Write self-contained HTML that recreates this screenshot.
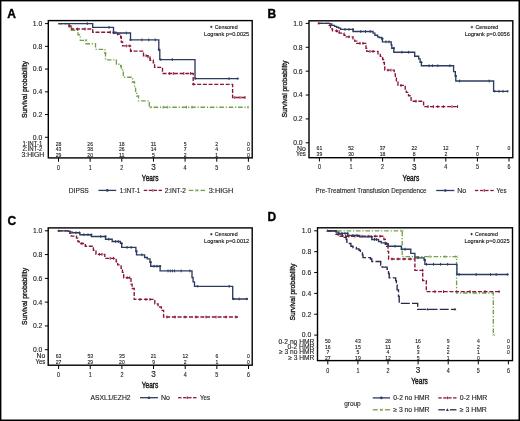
<!DOCTYPE html>
<html><head><meta charset="utf-8"><style>
html,body{margin:0;padding:0;background:#fff;}
svg{display:block;will-change:transform;}
text{font-family:"Liberation Sans", sans-serif;stroke:currentColor;stroke-width:0.12px;}
</style></head><body>
<svg width="520" height="421" viewBox="0 0 520 421">
<rect x="0" y="0" width="520" height="421" fill="#fff"/>
<text x="7.3" y="17.6" font-size="12" font-weight="bold" fill="#000" color="#000" style="stroke-width:0.35px">A</text>
<line x1="45.0" y1="137.3" x2="48.3" y2="137.3" stroke="#000" stroke-width="1"/>
<text x="42.2" y="139.68" font-size="6.8" text-anchor="end" fill="#222" color="#222">0.0</text>
<line x1="45.0" y1="114.56" x2="48.3" y2="114.56" stroke="#000" stroke-width="1"/>
<text x="42.2" y="116.94" font-size="6.8" text-anchor="end" fill="#222" color="#222">0.2</text>
<line x1="45.0" y1="91.82" x2="48.3" y2="91.82" stroke="#000" stroke-width="1"/>
<text x="42.2" y="94.2" font-size="6.8" text-anchor="end" fill="#222" color="#222">0.4</text>
<line x1="45.0" y1="69.08" x2="48.3" y2="69.08" stroke="#000" stroke-width="1"/>
<text x="42.2" y="71.46" font-size="6.8" text-anchor="end" fill="#222" color="#222">0.6</text>
<line x1="45.0" y1="46.34" x2="48.3" y2="46.34" stroke="#000" stroke-width="1"/>
<text x="42.2" y="48.72" font-size="6.8" text-anchor="end" fill="#222" color="#222">0.8</text>
<line x1="45.0" y1="23.6" x2="48.3" y2="23.6" stroke="#000" stroke-width="1"/>
<text x="42.2" y="25.98" font-size="6.8" text-anchor="end" fill="#222" color="#222">1.0</text>
<text x="0" y="0" font-size="8" fill="#1a1a1a" color="#1a1a1a" style="stroke-width:0.35px" text-anchor="middle" textLength="57" lengthAdjust="spacingAndGlyphs" transform="translate(26.900000000000002,89.5) rotate(-90)">Survival probability</text>
<line x1="58.5" y1="157.9" x2="58.5" y2="161.70000000000002" stroke="#000" stroke-width="1"/>
<text x="58.5" y="169.61" font-size="6.3" text-anchor="middle" textLength="3.01" lengthAdjust="spacingAndGlyphs" fill="#222" color="#222">0</text>
<line x1="90.15" y1="157.9" x2="90.15" y2="161.70000000000002" stroke="#000" stroke-width="1"/>
<text x="90.15" y="169.61" font-size="6.3" text-anchor="middle" textLength="3.01" lengthAdjust="spacingAndGlyphs" fill="#222" color="#222">1</text>
<line x1="121.8" y1="157.9" x2="121.8" y2="161.70000000000002" stroke="#000" stroke-width="1"/>
<text x="121.8" y="169.61" font-size="6.3" text-anchor="middle" textLength="3.01" lengthAdjust="spacingAndGlyphs" fill="#222" color="#222">2</text>
<line x1="153.45" y1="157.9" x2="153.45" y2="161.70000000000002" stroke="#000" stroke-width="1"/>
<text x="153.45" y="169.87" font-size="8.2" text-anchor="middle" fill="#1a1a1a" color="#1a1a1a" style="stroke-width:0.15px">3</text>
<line x1="185.1" y1="157.9" x2="185.1" y2="161.70000000000002" stroke="#000" stroke-width="1"/>
<text x="185.1" y="169.61" font-size="6.3" text-anchor="middle" textLength="3.01" lengthAdjust="spacingAndGlyphs" fill="#222" color="#222">4</text>
<line x1="216.75" y1="157.9" x2="216.75" y2="161.70000000000002" stroke="#000" stroke-width="1"/>
<text x="216.75" y="169.61" font-size="6.3" text-anchor="middle" textLength="3.01" lengthAdjust="spacingAndGlyphs" fill="#222" color="#222">5</text>
<line x1="248.4" y1="157.9" x2="248.4" y2="161.70000000000002" stroke="#000" stroke-width="1"/>
<text x="248.4" y="169.61" font-size="6.3" text-anchor="middle" textLength="3.01" lengthAdjust="spacingAndGlyphs" fill="#222" color="#222">6</text>
<text x="150.15" y="180.62" font-size="9.5" text-anchor="middle" textLength="16.6" lengthAdjust="spacingAndGlyphs" fill="#111" color="#111" style="stroke-width:0.4px">Years</text>
<text x="42.3" y="146.47" font-size="6.5" text-anchor="end" textLength="19.8" lengthAdjust="spacingAndGlyphs" fill="#222" color="#222">1:INT-1</text>
<text x="58.5" y="146.26" font-size="5.9" text-anchor="middle" textLength="5.64" lengthAdjust="spacingAndGlyphs" fill="#1a1a1a" color="#1a1a1a" style="stroke-width:0.12px">28</text>
<text x="90.15" y="146.26" font-size="5.9" text-anchor="middle" textLength="5.64" lengthAdjust="spacingAndGlyphs" fill="#1a1a1a" color="#1a1a1a" style="stroke-width:0.12px">26</text>
<text x="121.8" y="146.26" font-size="5.9" text-anchor="middle" textLength="5.64" lengthAdjust="spacingAndGlyphs" fill="#1a1a1a" color="#1a1a1a" style="stroke-width:0.12px">18</text>
<text x="153.45" y="146.26" font-size="5.9" text-anchor="middle" textLength="5.64" lengthAdjust="spacingAndGlyphs" fill="#1a1a1a" color="#1a1a1a" style="stroke-width:0.12px">11</text>
<text x="185.1" y="146.26" font-size="5.9" text-anchor="middle" textLength="2.82" lengthAdjust="spacingAndGlyphs" fill="#1a1a1a" color="#1a1a1a" style="stroke-width:0.12px">5</text>
<text x="216.75" y="146.26" font-size="5.9" text-anchor="middle" textLength="2.82" lengthAdjust="spacingAndGlyphs" fill="#1a1a1a" color="#1a1a1a" style="stroke-width:0.12px">2</text>
<text x="248.4" y="146.26" font-size="5.9" text-anchor="middle" textLength="2.82" lengthAdjust="spacingAndGlyphs" fill="#1a1a1a" color="#1a1a1a" style="stroke-width:0.12px">0</text>
<text x="42.3" y="151.47" font-size="6.5" text-anchor="end" textLength="19.8" lengthAdjust="spacingAndGlyphs" fill="#222" color="#222">2:INT-2</text>
<text x="58.5" y="151.26" font-size="5.9" text-anchor="middle" textLength="5.64" lengthAdjust="spacingAndGlyphs" fill="#1a1a1a" color="#1a1a1a" style="stroke-width:0.12px">43</text>
<text x="90.15" y="151.26" font-size="5.9" text-anchor="middle" textLength="5.64" lengthAdjust="spacingAndGlyphs" fill="#1a1a1a" color="#1a1a1a" style="stroke-width:0.12px">38</text>
<text x="121.8" y="151.26" font-size="5.9" text-anchor="middle" textLength="5.64" lengthAdjust="spacingAndGlyphs" fill="#1a1a1a" color="#1a1a1a" style="stroke-width:0.12px">26</text>
<text x="153.45" y="151.26" font-size="5.9" text-anchor="middle" textLength="5.64" lengthAdjust="spacingAndGlyphs" fill="#1a1a1a" color="#1a1a1a" style="stroke-width:0.12px">14</text>
<text x="185.1" y="151.26" font-size="5.9" text-anchor="middle" textLength="2.82" lengthAdjust="spacingAndGlyphs" fill="#1a1a1a" color="#1a1a1a" style="stroke-width:0.12px">7</text>
<text x="216.75" y="151.26" font-size="5.9" text-anchor="middle" textLength="2.82" lengthAdjust="spacingAndGlyphs" fill="#1a1a1a" color="#1a1a1a" style="stroke-width:0.12px">4</text>
<text x="248.4" y="151.26" font-size="5.9" text-anchor="middle" textLength="2.82" lengthAdjust="spacingAndGlyphs" fill="#1a1a1a" color="#1a1a1a" style="stroke-width:0.12px">0</text>
<text x="44.2" y="157.18" font-size="6.5" text-anchor="end" textLength="22.7" lengthAdjust="spacingAndGlyphs" fill="#222" color="#222">3:HIGH</text>
<text x="58.5" y="156.97" font-size="5.9" text-anchor="middle" textLength="5.64" lengthAdjust="spacingAndGlyphs" fill="#1a1a1a" color="#1a1a1a" style="stroke-width:0.12px">29</text>
<text x="90.15" y="156.97" font-size="5.9" text-anchor="middle" textLength="5.64" lengthAdjust="spacingAndGlyphs" fill="#1a1a1a" color="#1a1a1a" style="stroke-width:0.12px">20</text>
<text x="121.8" y="156.97" font-size="5.9" text-anchor="middle" textLength="5.64" lengthAdjust="spacingAndGlyphs" fill="#1a1a1a" color="#1a1a1a" style="stroke-width:0.12px">11</text>
<text x="153.45" y="156.97" font-size="5.9" text-anchor="middle" textLength="2.82" lengthAdjust="spacingAndGlyphs" fill="#1a1a1a" color="#1a1a1a" style="stroke-width:0.12px">5</text>
<text x="185.1" y="156.97" font-size="5.9" text-anchor="middle" textLength="2.82" lengthAdjust="spacingAndGlyphs" fill="#1a1a1a" color="#1a1a1a" style="stroke-width:0.12px">2</text>
<text x="216.75" y="156.97" font-size="5.9" text-anchor="middle" textLength="2.82" lengthAdjust="spacingAndGlyphs" fill="#1a1a1a" color="#1a1a1a" style="stroke-width:0.12px">1</text>
<text x="248.4" y="156.97" font-size="5.9" text-anchor="middle" textLength="2.82" lengthAdjust="spacingAndGlyphs" fill="#1a1a1a" color="#1a1a1a" style="stroke-width:0.12px">0</text>
<path d="M58.5,23.6 H69 V27 H71.3 V30.2 H78 V34.7 H80.3 V40.3 H86 V43.7 H95.5 V49.3 H105 V53 H105.5 V59.8 H116.4 V64.2 H120.7 V66.1 H121.3 V70 H122.6 V71.3 H123.3 V77.2 H132.5 V82 H134.5 V87 H135.6 V92.5 H136.7 V96 H138.5 V100.8 H149.3 V107.2 H248.4" fill="none" stroke="#74a04a" stroke-width="1.35" stroke-dasharray="4.6,1.8,1.2,1.8" stroke-linejoin="miter"/>
<line x1="163.2" y1="105.8" x2="163.2" y2="108.6" stroke="#74a04a" stroke-width="1.0"/>
<line x1="167.7" y1="105.8" x2="167.7" y2="108.6" stroke="#74a04a" stroke-width="1.0"/>
<line x1="186.5" y1="105.8" x2="186.5" y2="108.6" stroke="#74a04a" stroke-width="1.0"/>
<line x1="192" y1="105.8" x2="192" y2="108.6" stroke="#74a04a" stroke-width="1.0"/>
<line x1="248" y1="105.8" x2="248" y2="108.6" stroke="#74a04a" stroke-width="1.0"/>
<line x1="70.1" y1="25.9" x2="72.3" y2="28.1" stroke="#74a04a" stroke-width="0.8"/>
<line x1="70.1" y1="28.1" x2="72.3" y2="25.9" stroke="#74a04a" stroke-width="0.8"/>
<line x1="84.9" y1="39.2" x2="87.1" y2="41.4" stroke="#74a04a" stroke-width="0.8"/>
<line x1="84.9" y1="41.4" x2="87.1" y2="39.2" stroke="#74a04a" stroke-width="0.8"/>
<line x1="104.2" y1="51.9" x2="106.4" y2="54.1" stroke="#74a04a" stroke-width="0.8"/>
<line x1="104.2" y1="54.1" x2="106.4" y2="51.9" stroke="#74a04a" stroke-width="0.8"/>
<line x1="119.9" y1="65.0" x2="122.1" y2="67.2" stroke="#74a04a" stroke-width="0.8"/>
<line x1="119.9" y1="67.2" x2="122.1" y2="65.0" stroke="#74a04a" stroke-width="0.8"/>
<line x1="132.4" y1="80.9" x2="134.6" y2="83.1" stroke="#74a04a" stroke-width="0.8"/>
<line x1="132.4" y1="83.1" x2="134.6" y2="80.9" stroke="#74a04a" stroke-width="0.8"/>
<line x1="149.4" y1="106.1" x2="151.6" y2="108.3" stroke="#74a04a" stroke-width="0.8"/>
<line x1="149.4" y1="108.3" x2="151.6" y2="106.1" stroke="#74a04a" stroke-width="0.8"/>
<path d="M58.5,23.6 H69 V26 H71.5 V29 H92.7 V32.2 H117.4 V34.1 H120.7 V37.4 H121.3 V42 H122.6 V45.9 H130.5 V51.1 H143.5 V55.7 H148.1 V57.5 H150 V60.2 H153.3 V62.9 H154.6 V67.4 H162.5 V73.5 H193.2 V84.4 H232.6 V97.5 H245.4" fill="none" stroke="#8a1437" stroke-width="1.35" stroke-dasharray="4,1.7" stroke-linejoin="miter"/>
<circle cx="131" cy="51.1" r="1.15" fill="#8a1437"/>
<circle cx="193.5" cy="84.4" r="1.15" fill="#8a1437"/>
<line x1="69.6" y1="24.6" x2="69.6" y2="27.4" stroke="#8a1437" stroke-width="1.0"/>
<line x1="77.3" y1="27.6" x2="77.3" y2="30.4" stroke="#8a1437" stroke-width="1.0"/>
<line x1="85" y1="27.6" x2="85" y2="30.4" stroke="#8a1437" stroke-width="1.0"/>
<line x1="110.2" y1="30.8" x2="110.2" y2="33.6" stroke="#8a1437" stroke-width="1.0"/>
<line x1="117.7" y1="32.7" x2="117.7" y2="35.5" stroke="#8a1437" stroke-width="1.0"/>
<line x1="121.3" y1="36.0" x2="121.3" y2="38.8" stroke="#8a1437" stroke-width="1.0"/>
<line x1="126.3" y1="44.5" x2="126.3" y2="47.3" stroke="#8a1437" stroke-width="1.0"/>
<line x1="129.8" y1="44.5" x2="129.8" y2="47.3" stroke="#8a1437" stroke-width="1.0"/>
<line x1="146" y1="54.3" x2="146" y2="57.1" stroke="#8a1437" stroke-width="1.0"/>
<line x1="150" y1="56.1" x2="150" y2="58.9" stroke="#8a1437" stroke-width="1.0"/>
<line x1="169.4" y1="72.1" x2="169.4" y2="74.9" stroke="#8a1437" stroke-width="1.0"/>
<line x1="173.3" y1="72.1" x2="173.3" y2="74.9" stroke="#8a1437" stroke-width="1.0"/>
<line x1="183.8" y1="72.1" x2="183.8" y2="74.9" stroke="#8a1437" stroke-width="1.0"/>
<line x1="190.6" y1="72.1" x2="190.6" y2="74.9" stroke="#8a1437" stroke-width="1.0"/>
<line x1="234.8" y1="96.1" x2="234.8" y2="98.9" stroke="#8a1437" stroke-width="1.0"/>
<line x1="240" y1="96.1" x2="240" y2="98.9" stroke="#8a1437" stroke-width="1.0"/>
<line x1="245" y1="96.1" x2="245" y2="98.9" stroke="#8a1437" stroke-width="1.0"/>
<path d="M58.5,23.6 H92.7 V27.4 H113.5 V33 H130.5 V39.9 H158.8 V49.7 H159.8 V59.6 H195 V78.6 H238" fill="none" stroke="#2b3c60" stroke-width="1.35" stroke-linejoin="miter"/>
<circle cx="113.7" cy="33.0" r="1.15" fill="#2b3c60"/>
<circle cx="130.6" cy="39.9" r="1.15" fill="#2b3c60"/>
<circle cx="158.9" cy="49.7" r="1.15" fill="#2b3c60"/>
<circle cx="160.8" cy="59.6" r="1.15" fill="#2b3c60"/>
<circle cx="195.4" cy="78.6" r="1.15" fill="#2b3c60"/>
<circle cx="237.7" cy="78.6" r="1.15" fill="#2b3c60"/>
<line x1="87.3" y1="22.2" x2="87.3" y2="25.0" stroke="#2b3c60" stroke-width="1.0"/>
<line x1="109" y1="26.0" x2="109" y2="28.8" stroke="#2b3c60" stroke-width="1.0"/>
<line x1="126.3" y1="31.6" x2="126.3" y2="34.4" stroke="#2b3c60" stroke-width="1.0"/>
<line x1="141.9" y1="38.5" x2="141.9" y2="41.3" stroke="#2b3c60" stroke-width="1.0"/>
<line x1="148.8" y1="38.5" x2="148.8" y2="41.3" stroke="#2b3c60" stroke-width="1.0"/>
<line x1="155.2" y1="38.5" x2="155.2" y2="41.3" stroke="#2b3c60" stroke-width="1.0"/>
<line x1="172.3" y1="58.2" x2="172.3" y2="61.0" stroke="#2b3c60" stroke-width="1.0"/>
<line x1="229" y1="77.2" x2="229" y2="80.0" stroke="#2b3c60" stroke-width="1.0"/>
<rect x="48.3" y="20.6" width="203.9" height="137.3" fill="none" stroke="#000" stroke-width="1.4"/>
<line x1="210.1" y1="26.900000000000002" x2="212.5" y2="26.900000000000002" stroke="#222" stroke-width="0.85"/>
<line x1="211.29999999999998" y1="25.700000000000003" x2="211.29999999999998" y2="28.1" stroke="#222" stroke-width="0.85"/>
<text x="214.79999999999998" y="29.06" font-size="5.6" textLength="22.9" lengthAdjust="spacingAndGlyphs" fill="#111" color="#111">Censored</text>
<text x="204.1" y="35.66" font-size="5.6" textLength="45.1" lengthAdjust="spacingAndGlyphs" fill="#111" color="#111">Logrank p=0.0025</text>
<text x="68.8" y="192.68" font-size="6.5" textLength="20.0" lengthAdjust="spacingAndGlyphs" fill="#222" color="#222">DIPSS</text>
<line x1="98.4" y1="190.4" x2="116.2" y2="190.4" stroke="#2b3c60" stroke-width="1.3"/>
<circle cx="107.30000000000001" cy="190.4" r="1.3" fill="#2b3c60"/>
<text x="119.7" y="192.68" font-size="6.5" textLength="20.6" lengthAdjust="spacingAndGlyphs" fill="#222" color="#222">1:INT-1</text>
<line x1="143.75" y1="190.4" x2="147.15" y2="190.4" stroke="#8a1437" stroke-width="1.3"/>
<line x1="148.7" y1="190.4" x2="152.1" y2="190.4" stroke="#8a1437" stroke-width="1.3"/>
<line x1="153.65" y1="190.4" x2="157.05" y2="190.4" stroke="#8a1437" stroke-width="1.3"/>
<line x1="158.6" y1="190.4" x2="162.0" y2="190.4" stroke="#8a1437" stroke-width="1.3"/>
<line x1="152.875" y1="189.1" x2="152.875" y2="191.70000000000002" stroke="#8a1437" stroke-width="1"/>
<text x="164.7" y="192.68" font-size="6.5" textLength="21.3" lengthAdjust="spacingAndGlyphs" fill="#222" color="#222">2:INT-2</text>
<line x1="188.75" y1="190.4" x2="193.28" y2="190.4" stroke="#74a04a" stroke-width="1.3"/>
<line x1="200.47" y1="190.4" x2="205" y2="190.4" stroke="#74a04a" stroke-width="1.3"/>
<line x1="195.47" y1="190.4" x2="198.28" y2="190.4" stroke="#74a04a" stroke-width="1.0"/>
<line x1="195.675" y1="189.20000000000002" x2="198.075" y2="191.6" stroke="#74a04a" stroke-width="0.9"/>
<line x1="195.675" y1="191.6" x2="198.075" y2="189.20000000000002" stroke="#74a04a" stroke-width="0.9"/>
<text x="208.8" y="192.68" font-size="6.5" textLength="24.4" lengthAdjust="spacingAndGlyphs" fill="#222" color="#222">3:HIGH</text>
<text x="267.4" y="17.9" font-size="12" font-weight="bold" fill="#000" color="#000" style="stroke-width:0.35px">B</text>
<line x1="305.7" y1="142.8" x2="309.0" y2="142.8" stroke="#000" stroke-width="1"/>
<text x="302.6" y="145.18" font-size="6.8" text-anchor="end" fill="#222" color="#222">0.0</text>
<line x1="305.7" y1="118.92" x2="309.0" y2="118.92" stroke="#000" stroke-width="1"/>
<text x="302.6" y="121.3" font-size="6.8" text-anchor="end" fill="#222" color="#222">0.2</text>
<line x1="305.7" y1="95.04" x2="309.0" y2="95.04" stroke="#000" stroke-width="1"/>
<text x="302.6" y="97.42" font-size="6.8" text-anchor="end" fill="#222" color="#222">0.4</text>
<line x1="305.7" y1="71.16" x2="309.0" y2="71.16" stroke="#000" stroke-width="1"/>
<text x="302.6" y="73.54" font-size="6.8" text-anchor="end" fill="#222" color="#222">0.6</text>
<line x1="305.7" y1="47.28" x2="309.0" y2="47.28" stroke="#000" stroke-width="1"/>
<text x="302.6" y="49.66" font-size="6.8" text-anchor="end" fill="#222" color="#222">0.8</text>
<line x1="305.7" y1="23.4" x2="309.0" y2="23.4" stroke="#000" stroke-width="1"/>
<text x="302.6" y="25.78" font-size="6.8" text-anchor="end" fill="#222" color="#222">1.0</text>
<text x="0" y="0" font-size="8" fill="#1a1a1a" color="#1a1a1a" style="stroke-width:0.35px" text-anchor="middle" textLength="57" lengthAdjust="spacingAndGlyphs" transform="translate(287.3,89.0) rotate(-90)">Survival probability</text>
<line x1="319.4" y1="157.7" x2="319.4" y2="161.5" stroke="#000" stroke-width="1"/>
<text x="319.4" y="169.41" font-size="6.3" text-anchor="middle" textLength="3.01" lengthAdjust="spacingAndGlyphs" fill="#222" color="#222">0</text>
<line x1="351.0" y1="157.7" x2="351.0" y2="161.5" stroke="#000" stroke-width="1"/>
<text x="351.0" y="169.41" font-size="6.3" text-anchor="middle" textLength="3.01" lengthAdjust="spacingAndGlyphs" fill="#222" color="#222">1</text>
<line x1="382.6" y1="157.7" x2="382.6" y2="161.5" stroke="#000" stroke-width="1"/>
<text x="382.6" y="169.41" font-size="6.3" text-anchor="middle" textLength="3.01" lengthAdjust="spacingAndGlyphs" fill="#222" color="#222">2</text>
<line x1="414.2" y1="157.7" x2="414.2" y2="161.5" stroke="#000" stroke-width="1"/>
<text x="414.2" y="169.67" font-size="8.2" text-anchor="middle" fill="#1a1a1a" color="#1a1a1a" style="stroke-width:0.15px">3</text>
<line x1="445.8" y1="157.7" x2="445.8" y2="161.5" stroke="#000" stroke-width="1"/>
<text x="445.8" y="169.41" font-size="6.3" text-anchor="middle" textLength="3.01" lengthAdjust="spacingAndGlyphs" fill="#222" color="#222">4</text>
<line x1="477.4" y1="157.7" x2="477.4" y2="161.5" stroke="#000" stroke-width="1"/>
<text x="477.4" y="169.41" font-size="6.3" text-anchor="middle" textLength="3.01" lengthAdjust="spacingAndGlyphs" fill="#222" color="#222">5</text>
<line x1="509.0" y1="157.7" x2="509.0" y2="161.5" stroke="#000" stroke-width="1"/>
<text x="509.0" y="169.41" font-size="6.3" text-anchor="middle" textLength="3.01" lengthAdjust="spacingAndGlyphs" fill="#222" color="#222">6</text>
<text x="410.9" y="180.82" font-size="9.5" text-anchor="middle" textLength="16.6" lengthAdjust="spacingAndGlyphs" fill="#111" color="#111" style="stroke-width:0.4px">Years</text>
<text x="305.9" y="150.68" font-size="6.5" text-anchor="end" textLength="8.8" lengthAdjust="spacingAndGlyphs" fill="#222" color="#222">No</text>
<text x="319.4" y="150.47" font-size="5.9" text-anchor="middle" textLength="5.64" lengthAdjust="spacingAndGlyphs" fill="#1a1a1a" color="#1a1a1a" style="stroke-width:0.12px">61</text>
<text x="351.0" y="150.47" font-size="5.9" text-anchor="middle" textLength="5.64" lengthAdjust="spacingAndGlyphs" fill="#1a1a1a" color="#1a1a1a" style="stroke-width:0.12px">52</text>
<text x="382.6" y="150.47" font-size="5.9" text-anchor="middle" textLength="5.64" lengthAdjust="spacingAndGlyphs" fill="#1a1a1a" color="#1a1a1a" style="stroke-width:0.12px">37</text>
<text x="414.2" y="150.47" font-size="5.9" text-anchor="middle" textLength="5.64" lengthAdjust="spacingAndGlyphs" fill="#1a1a1a" color="#1a1a1a" style="stroke-width:0.12px">22</text>
<text x="445.8" y="150.47" font-size="5.9" text-anchor="middle" textLength="5.64" lengthAdjust="spacingAndGlyphs" fill="#1a1a1a" color="#1a1a1a" style="stroke-width:0.12px">12</text>
<text x="477.4" y="150.47" font-size="5.9" text-anchor="middle" textLength="2.82" lengthAdjust="spacingAndGlyphs" fill="#1a1a1a" color="#1a1a1a" style="stroke-width:0.12px">7</text>
<text x="509.0" y="150.47" font-size="5.9" text-anchor="middle" textLength="2.82" lengthAdjust="spacingAndGlyphs" fill="#1a1a1a" color="#1a1a1a" style="stroke-width:0.12px">0</text>
<text x="305.9" y="156.47" font-size="6.5" text-anchor="end" textLength="10.0" lengthAdjust="spacingAndGlyphs" fill="#222" color="#222">Yes</text>
<text x="319.4" y="156.26" font-size="5.9" text-anchor="middle" textLength="5.64" lengthAdjust="spacingAndGlyphs" fill="#1a1a1a" color="#1a1a1a" style="stroke-width:0.12px">39</text>
<text x="351.0" y="156.26" font-size="5.9" text-anchor="middle" textLength="5.64" lengthAdjust="spacingAndGlyphs" fill="#1a1a1a" color="#1a1a1a" style="stroke-width:0.12px">30</text>
<text x="382.6" y="156.26" font-size="5.9" text-anchor="middle" textLength="5.64" lengthAdjust="spacingAndGlyphs" fill="#1a1a1a" color="#1a1a1a" style="stroke-width:0.12px">18</text>
<text x="414.2" y="156.26" font-size="5.9" text-anchor="middle" textLength="2.82" lengthAdjust="spacingAndGlyphs" fill="#1a1a1a" color="#1a1a1a" style="stroke-width:0.12px">8</text>
<text x="445.8" y="156.26" font-size="5.9" text-anchor="middle" textLength="2.82" lengthAdjust="spacingAndGlyphs" fill="#1a1a1a" color="#1a1a1a" style="stroke-width:0.12px">2</text>
<text x="477.4" y="156.26" font-size="5.9" text-anchor="middle" textLength="2.82" lengthAdjust="spacingAndGlyphs" fill="#1a1a1a" color="#1a1a1a" style="stroke-width:0.12px">0</text>
<path d="M319.4,23.4 H329.1 V25.4 H330.5 V27.2 H332 V29 H332.5 V30.8 H337.5 V31.5 H339.2 V33.1 H344 V35.2 H346 V36.8 H353 V38.9 H354.7 V41.1 H356.7 V43.3 H366 V48.3 H366.8 V51.4 H378 V53.7 H380.3 V56.4 H382.6 V59.5 H383.5 V62.5 H384.4 V65.5 H384.8 V70.1 H394.2 V73.8 H395.3 V77 H396.4 V81.5 H398 V85.4 H405.2 V89.1 H406.3 V92.4 H408.5 V95.7 H411.1 V101.2 H423.6 V106.6 H458.6" fill="none" stroke="#8a1437" stroke-width="1.35" stroke-dasharray="4,1.7" stroke-linejoin="miter"/>
<circle cx="318.8" cy="23.4" r="1.15" fill="#8a1437"/>
<line x1="336.5" y1="29.4" x2="336.5" y2="32.2" stroke="#8a1437" stroke-width="1.0"/>
<line x1="339.2" y1="30.1" x2="339.2" y2="32.9" stroke="#8a1437" stroke-width="1.0"/>
<line x1="349" y1="35.4" x2="349" y2="38.2" stroke="#8a1437" stroke-width="1.0"/>
<line x1="360" y1="41.9" x2="360" y2="44.7" stroke="#8a1437" stroke-width="1.0"/>
<line x1="363" y1="41.9" x2="363" y2="44.7" stroke="#8a1437" stroke-width="1.0"/>
<line x1="370" y1="50.0" x2="370" y2="52.8" stroke="#8a1437" stroke-width="1.0"/>
<line x1="373" y1="50.0" x2="373" y2="52.8" stroke="#8a1437" stroke-width="1.0"/>
<line x1="388" y1="68.7" x2="388" y2="71.5" stroke="#8a1437" stroke-width="1.0"/>
<line x1="391" y1="68.7" x2="391" y2="71.5" stroke="#8a1437" stroke-width="1.0"/>
<line x1="401" y1="84.0" x2="401" y2="86.8" stroke="#8a1437" stroke-width="1.0"/>
<line x1="416" y1="99.8" x2="416" y2="102.6" stroke="#8a1437" stroke-width="1.0"/>
<line x1="428" y1="105.2" x2="428" y2="108.0" stroke="#8a1437" stroke-width="1.0"/>
<line x1="433.4" y1="105.2" x2="433.4" y2="108.0" stroke="#8a1437" stroke-width="1.0"/>
<line x1="437.8" y1="105.2" x2="437.8" y2="108.0" stroke="#8a1437" stroke-width="1.0"/>
<line x1="443.3" y1="105.2" x2="443.3" y2="108.0" stroke="#8a1437" stroke-width="1.0"/>
<line x1="452" y1="105.2" x2="452" y2="108.0" stroke="#8a1437" stroke-width="1.0"/>
<line x1="457.5" y1="105.2" x2="457.5" y2="108.0" stroke="#8a1437" stroke-width="1.0"/>
<path d="M319.4,23.4 H329.8 V24 H331.8 V25.4 H334.5 V26.3 H336.5 V27.2 H338.6 V28.1 H340.6 V29.4 H353 V31.5 H373 V33.1 H374.9 V35.2 H377.6 V36.8 H379 V37.5 H381.7 V38.7 H382.4 V41.8 H391.2 V44.8 H391.8 V48.2 H393.8 V52.2 H414.7 V56.2 H418.7 V58.9 H420.1 V62.3 H421.4 V65.7 H453.6 V71.6 H455.3 V76 H455.8 V81 H493.6 V91.3 H507.8" fill="none" stroke="#2b3c60" stroke-width="1.35" stroke-linejoin="miter"/>
<circle cx="353" cy="29.4" r="1.15" fill="#2b3c60"/>
<circle cx="382.4" cy="38.7" r="1.15" fill="#2b3c60"/>
<circle cx="393.8" cy="48.2" r="1.15" fill="#2b3c60"/>
<circle cx="421.4" cy="62.3" r="1.15" fill="#2b3c60"/>
<circle cx="455.8" cy="76.0" r="1.15" fill="#2b3c60"/>
<circle cx="494.7" cy="91.3" r="1.15" fill="#2b3c60"/>
<circle cx="507.5" cy="91.3" r="1.15" fill="#2b3c60"/>
<line x1="345" y1="28.0" x2="345" y2="30.8" stroke="#2b3c60" stroke-width="1.0"/>
<line x1="349" y1="28.0" x2="349" y2="30.8" stroke="#2b3c60" stroke-width="1.0"/>
<line x1="360.8" y1="30.1" x2="360.8" y2="32.9" stroke="#2b3c60" stroke-width="1.0"/>
<line x1="365.5" y1="30.1" x2="365.5" y2="32.9" stroke="#2b3c60" stroke-width="1.0"/>
<line x1="370.2" y1="30.1" x2="370.2" y2="32.9" stroke="#2b3c60" stroke-width="1.0"/>
<line x1="386" y1="40.4" x2="386" y2="43.2" stroke="#2b3c60" stroke-width="1.0"/>
<line x1="389" y1="40.4" x2="389" y2="43.2" stroke="#2b3c60" stroke-width="1.0"/>
<line x1="401.9" y1="50.8" x2="401.9" y2="53.6" stroke="#2b3c60" stroke-width="1.0"/>
<line x1="408.6" y1="50.8" x2="408.6" y2="53.6" stroke="#2b3c60" stroke-width="1.0"/>
<line x1="429" y1="64.3" x2="429" y2="67.1" stroke="#2b3c60" stroke-width="1.0"/>
<line x1="432.4" y1="64.3" x2="432.4" y2="67.1" stroke="#2b3c60" stroke-width="1.0"/>
<line x1="437.8" y1="64.3" x2="437.8" y2="67.1" stroke="#2b3c60" stroke-width="1.0"/>
<line x1="449.9" y1="64.3" x2="449.9" y2="67.1" stroke="#2b3c60" stroke-width="1.0"/>
<line x1="459.7" y1="79.6" x2="459.7" y2="82.4" stroke="#2b3c60" stroke-width="1.0"/>
<line x1="489.2" y1="79.6" x2="489.2" y2="82.4" stroke="#2b3c60" stroke-width="1.0"/>
<line x1="499" y1="89.9" x2="499" y2="92.7" stroke="#2b3c60" stroke-width="1.0"/>
<line x1="503" y1="89.9" x2="503" y2="92.7" stroke="#2b3c60" stroke-width="1.0"/>
<rect x="309.0" y="20.8" width="203.8" height="136.9" fill="none" stroke="#000" stroke-width="1.4"/>
<line x1="470.69999999999993" y1="27.1" x2="473.09999999999997" y2="27.1" stroke="#222" stroke-width="0.85"/>
<line x1="471.9" y1="25.9" x2="471.9" y2="28.3" stroke="#222" stroke-width="0.85"/>
<text x="475.4" y="29.26" font-size="5.6" textLength="22.9" lengthAdjust="spacingAndGlyphs" fill="#111" color="#111">Censored</text>
<text x="464.69999999999993" y="35.86" font-size="5.6" textLength="45.1" lengthAdjust="spacingAndGlyphs" fill="#111" color="#111">Logrank p=0.0056</text>
<text x="315.6" y="192.78" font-size="6.5" textLength="111" lengthAdjust="spacingAndGlyphs" fill="#222" color="#222">Pre-Treatment Transfusion Dependence</text>
<line x1="436.2" y1="190.5" x2="454.4" y2="190.5" stroke="#2b3c60" stroke-width="1.3"/>
<circle cx="445.29999999999995" cy="190.5" r="1.3" fill="#2b3c60"/>
<text x="457.2" y="192.78" font-size="6.5" textLength="9" lengthAdjust="spacingAndGlyphs" fill="#222" color="#222">No</text>
<line x1="474.9" y1="190.5" x2="478.3" y2="190.5" stroke="#8a1437" stroke-width="1.3"/>
<line x1="480.03" y1="190.5" x2="483.43" y2="190.5" stroke="#8a1437" stroke-width="1.3"/>
<line x1="485.17" y1="190.5" x2="488.57" y2="190.5" stroke="#8a1437" stroke-width="1.3"/>
<line x1="490.3" y1="190.5" x2="493.7" y2="190.5" stroke="#8a1437" stroke-width="1.3"/>
<line x1="484.29999999999995" y1="189.2" x2="484.29999999999995" y2="191.8" stroke="#8a1437" stroke-width="1"/>
<text x="496.6" y="192.78" font-size="6.5" textLength="9.9" lengthAdjust="spacingAndGlyphs" fill="#222" color="#222">Yes</text>
<text x="7.4" y="224.8" font-size="12" font-weight="bold" fill="#000" color="#000" style="stroke-width:0.35px">C</text>
<line x1="44.9" y1="349.7" x2="48.2" y2="349.7" stroke="#000" stroke-width="1"/>
<text x="42.4" y="352.08" font-size="6.8" text-anchor="end" fill="#222" color="#222">0.0</text>
<line x1="44.9" y1="325.92" x2="48.2" y2="325.92" stroke="#000" stroke-width="1"/>
<text x="42.4" y="328.3" font-size="6.8" text-anchor="end" fill="#222" color="#222">0.2</text>
<line x1="44.9" y1="302.14" x2="48.2" y2="302.14" stroke="#000" stroke-width="1"/>
<text x="42.4" y="304.52" font-size="6.8" text-anchor="end" fill="#222" color="#222">0.4</text>
<line x1="44.9" y1="278.36" x2="48.2" y2="278.36" stroke="#000" stroke-width="1"/>
<text x="42.4" y="280.74" font-size="6.8" text-anchor="end" fill="#222" color="#222">0.6</text>
<line x1="44.9" y1="254.58" x2="48.2" y2="254.58" stroke="#000" stroke-width="1"/>
<text x="42.4" y="256.96" font-size="6.8" text-anchor="end" fill="#222" color="#222">0.8</text>
<line x1="44.9" y1="230.8" x2="48.2" y2="230.8" stroke="#000" stroke-width="1"/>
<text x="42.4" y="233.18" font-size="6.8" text-anchor="end" fill="#222" color="#222">1.0</text>
<text x="0" y="0" font-size="8" fill="#1a1a1a" color="#1a1a1a" style="stroke-width:0.35px" text-anchor="middle" textLength="57" lengthAdjust="spacingAndGlyphs" transform="translate(27.3,296.4) rotate(-90)">Survival probability</text>
<line x1="58.6" y1="365.2" x2="58.6" y2="369.0" stroke="#000" stroke-width="1"/>
<text x="58.6" y="376.81" font-size="6.3" text-anchor="middle" textLength="3.01" lengthAdjust="spacingAndGlyphs" fill="#222" color="#222">0</text>
<line x1="90.25" y1="365.2" x2="90.25" y2="369.0" stroke="#000" stroke-width="1"/>
<text x="90.25" y="376.81" font-size="6.3" text-anchor="middle" textLength="3.01" lengthAdjust="spacingAndGlyphs" fill="#222" color="#222">1</text>
<line x1="121.9" y1="365.2" x2="121.9" y2="369.0" stroke="#000" stroke-width="1"/>
<text x="121.9" y="376.81" font-size="6.3" text-anchor="middle" textLength="3.01" lengthAdjust="spacingAndGlyphs" fill="#222" color="#222">2</text>
<line x1="153.55" y1="365.2" x2="153.55" y2="369.0" stroke="#000" stroke-width="1"/>
<text x="153.55" y="377.07" font-size="8.2" text-anchor="middle" fill="#1a1a1a" color="#1a1a1a" style="stroke-width:0.15px">3</text>
<line x1="185.2" y1="365.2" x2="185.2" y2="369.0" stroke="#000" stroke-width="1"/>
<text x="185.2" y="376.81" font-size="6.3" text-anchor="middle" textLength="3.01" lengthAdjust="spacingAndGlyphs" fill="#222" color="#222">4</text>
<line x1="216.85" y1="365.2" x2="216.85" y2="369.0" stroke="#000" stroke-width="1"/>
<text x="216.85" y="376.81" font-size="6.3" text-anchor="middle" textLength="3.01" lengthAdjust="spacingAndGlyphs" fill="#222" color="#222">5</text>
<line x1="248.5" y1="365.2" x2="248.5" y2="369.0" stroke="#000" stroke-width="1"/>
<text x="248.5" y="376.81" font-size="6.3" text-anchor="middle" textLength="3.01" lengthAdjust="spacingAndGlyphs" fill="#222" color="#222">6</text>
<text x="150.0" y="387.92" font-size="9.5" text-anchor="middle" textLength="16.6" lengthAdjust="spacingAndGlyphs" fill="#111" color="#111" style="stroke-width:0.4px">Years</text>
<text x="45.4" y="358.07" font-size="6.5" text-anchor="end" textLength="8.8" lengthAdjust="spacingAndGlyphs" fill="#222" color="#222">No</text>
<text x="58.6" y="357.87" font-size="5.9" text-anchor="middle" textLength="5.64" lengthAdjust="spacingAndGlyphs" fill="#1a1a1a" color="#1a1a1a" style="stroke-width:0.12px">63</text>
<text x="90.25" y="357.87" font-size="5.9" text-anchor="middle" textLength="5.64" lengthAdjust="spacingAndGlyphs" fill="#1a1a1a" color="#1a1a1a" style="stroke-width:0.12px">53</text>
<text x="121.9" y="357.87" font-size="5.9" text-anchor="middle" textLength="5.64" lengthAdjust="spacingAndGlyphs" fill="#1a1a1a" color="#1a1a1a" style="stroke-width:0.12px">35</text>
<text x="153.55" y="357.87" font-size="5.9" text-anchor="middle" textLength="5.64" lengthAdjust="spacingAndGlyphs" fill="#1a1a1a" color="#1a1a1a" style="stroke-width:0.12px">21</text>
<text x="185.2" y="357.87" font-size="5.9" text-anchor="middle" textLength="5.64" lengthAdjust="spacingAndGlyphs" fill="#1a1a1a" color="#1a1a1a" style="stroke-width:0.12px">12</text>
<text x="216.85" y="357.87" font-size="5.9" text-anchor="middle" textLength="2.82" lengthAdjust="spacingAndGlyphs" fill="#1a1a1a" color="#1a1a1a" style="stroke-width:0.12px">6</text>
<text x="248.5" y="357.87" font-size="5.9" text-anchor="middle" textLength="2.82" lengthAdjust="spacingAndGlyphs" fill="#1a1a1a" color="#1a1a1a" style="stroke-width:0.12px">0</text>
<text x="45.4" y="363.88" font-size="6.5" text-anchor="end" textLength="10.0" lengthAdjust="spacingAndGlyphs" fill="#222" color="#222">Yes</text>
<text x="58.6" y="363.67" font-size="5.9" text-anchor="middle" textLength="5.64" lengthAdjust="spacingAndGlyphs" fill="#1a1a1a" color="#1a1a1a" style="stroke-width:0.12px">27</text>
<text x="90.25" y="363.67" font-size="5.9" text-anchor="middle" textLength="5.64" lengthAdjust="spacingAndGlyphs" fill="#1a1a1a" color="#1a1a1a" style="stroke-width:0.12px">29</text>
<text x="121.9" y="363.67" font-size="5.9" text-anchor="middle" textLength="5.64" lengthAdjust="spacingAndGlyphs" fill="#1a1a1a" color="#1a1a1a" style="stroke-width:0.12px">20</text>
<text x="153.55" y="363.67" font-size="5.9" text-anchor="middle" textLength="2.82" lengthAdjust="spacingAndGlyphs" fill="#1a1a1a" color="#1a1a1a" style="stroke-width:0.12px">9</text>
<text x="185.2" y="363.67" font-size="5.9" text-anchor="middle" textLength="2.82" lengthAdjust="spacingAndGlyphs" fill="#1a1a1a" color="#1a1a1a" style="stroke-width:0.12px">2</text>
<text x="216.85" y="363.67" font-size="5.9" text-anchor="middle" textLength="2.82" lengthAdjust="spacingAndGlyphs" fill="#1a1a1a" color="#1a1a1a" style="stroke-width:0.12px">1</text>
<text x="248.5" y="363.67" font-size="5.9" text-anchor="middle" textLength="2.82" lengthAdjust="spacingAndGlyphs" fill="#1a1a1a" color="#1a1a1a" style="stroke-width:0.12px">0</text>
<path d="M58.6,230.8 H68.5 V231.4 H69.8 V233.4 H71.2 V236.1 H76.5 V238.1 H77.9 V241.5 H79.2 V243.5 H85.3 V246.2 H93.4 V250.2 H96 V254.3 H104.8 V258.3 H116.2 V261.7 H117.7 V264.9 H121.1 V268.3 H122.4 V272.3 H123.7 V277.7 H131 V284.1 H132.1 V288.5 H134.2 V299.4 H154.8 V303.8 H158.1 V307 H161.4 V310.3 H163.6 V317 H238" fill="none" stroke="#8a1437" stroke-width="1.35" stroke-dasharray="4,1.7" stroke-linejoin="miter"/>
<circle cx="58.6" cy="230.8" r="1.15" fill="#8a1437"/>
<line x1="81.9" y1="242.1" x2="81.9" y2="244.9" stroke="#8a1437" stroke-width="1.0"/>
<line x1="99.4" y1="252.9" x2="99.4" y2="255.7" stroke="#8a1437" stroke-width="1.0"/>
<line x1="102" y1="252.9" x2="102" y2="255.7" stroke="#8a1437" stroke-width="1.0"/>
<line x1="110.2" y1="256.9" x2="110.2" y2="259.7" stroke="#8a1437" stroke-width="1.0"/>
<line x1="113.5" y1="256.9" x2="113.5" y2="259.7" stroke="#8a1437" stroke-width="1.0"/>
<line x1="127.1" y1="276.3" x2="127.1" y2="279.1" stroke="#8a1437" stroke-width="1.0"/>
<line x1="129.8" y1="276.3" x2="129.8" y2="279.1" stroke="#8a1437" stroke-width="1.0"/>
<line x1="140" y1="298.0" x2="140" y2="300.8" stroke="#8a1437" stroke-width="1.0"/>
<line x1="146" y1="298.0" x2="146" y2="300.8" stroke="#8a1437" stroke-width="1.0"/>
<line x1="150" y1="298.0" x2="150" y2="300.8" stroke="#8a1437" stroke-width="1.0"/>
<line x1="167" y1="315.6" x2="167" y2="318.4" stroke="#8a1437" stroke-width="1.0"/>
<line x1="175" y1="315.6" x2="175" y2="318.4" stroke="#8a1437" stroke-width="1.0"/>
<line x1="185" y1="315.6" x2="185" y2="318.4" stroke="#8a1437" stroke-width="1.0"/>
<line x1="196" y1="315.6" x2="196" y2="318.4" stroke="#8a1437" stroke-width="1.0"/>
<line x1="206" y1="315.6" x2="206" y2="318.4" stroke="#8a1437" stroke-width="1.0"/>
<line x1="216" y1="315.6" x2="216" y2="318.4" stroke="#8a1437" stroke-width="1.0"/>
<line x1="226" y1="315.6" x2="226" y2="318.4" stroke="#8a1437" stroke-width="1.0"/>
<line x1="236" y1="315.6" x2="236" y2="318.4" stroke="#8a1437" stroke-width="1.0"/>
<path d="M58.6,230.8 H68.5 V231.4 H70.5 V232.1 H72.5 V232.7 H79.9 V234.7 H91.3 V236.5 H105.5 V239.2 H112.2 V241.5 H120.4 V243.4 H121.7 V247.4 H135.9 V251.4 H136.5 V254.8 H144.6 V257.5 H147.3 V258.8 H150 V262.2 H150.7 V266.2 H160.1 V270.9 H192 V277.5 H193.1 V281.9 H194.5 V286.3 H232.7 V299 H247.8" fill="none" stroke="#2b3c60" stroke-width="1.35" stroke-linejoin="miter"/>
<circle cx="91.3" cy="234.7" r="1.15" fill="#2b3c60"/>
<circle cx="105.5" cy="236.5" r="1.15" fill="#2b3c60"/>
<circle cx="121.7" cy="243.4" r="1.15" fill="#2b3c60"/>
<circle cx="136.5" cy="251.4" r="1.15" fill="#2b3c60"/>
<circle cx="150.7" cy="262.2" r="1.15" fill="#2b3c60"/>
<circle cx="160.1" cy="266.2" r="1.15" fill="#2b3c60"/>
<circle cx="197.5" cy="286.3" r="1.15" fill="#2b3c60"/>
<circle cx="233.6" cy="299.0" r="1.15" fill="#2b3c60"/>
<circle cx="246.8" cy="299.0" r="1.15" fill="#2b3c60"/>
<line x1="75.9" y1="231.3" x2="75.9" y2="234.1" stroke="#2b3c60" stroke-width="1.0"/>
<line x1="79.2" y1="231.3" x2="79.2" y2="234.1" stroke="#2b3c60" stroke-width="1.0"/>
<line x1="83.9" y1="233.3" x2="83.9" y2="236.1" stroke="#2b3c60" stroke-width="1.0"/>
<line x1="88" y1="233.3" x2="88" y2="236.1" stroke="#2b3c60" stroke-width="1.0"/>
<line x1="100.8" y1="235.1" x2="100.8" y2="237.9" stroke="#2b3c60" stroke-width="1.0"/>
<line x1="108.8" y1="237.8" x2="108.8" y2="240.6" stroke="#2b3c60" stroke-width="1.0"/>
<line x1="115.6" y1="240.1" x2="115.6" y2="242.9" stroke="#2b3c60" stroke-width="1.0"/>
<line x1="118.3" y1="240.1" x2="118.3" y2="242.9" stroke="#2b3c60" stroke-width="1.0"/>
<line x1="127.1" y1="246.0" x2="127.1" y2="248.8" stroke="#2b3c60" stroke-width="1.0"/>
<line x1="131.2" y1="246.0" x2="131.2" y2="248.8" stroke="#2b3c60" stroke-width="1.0"/>
<line x1="141.9" y1="253.4" x2="141.9" y2="256.2" stroke="#2b3c60" stroke-width="1.0"/>
<line x1="154" y1="264.8" x2="154" y2="267.6" stroke="#2b3c60" stroke-width="1.0"/>
<line x1="157" y1="264.8" x2="157" y2="267.6" stroke="#2b3c60" stroke-width="1.0"/>
<line x1="168" y1="269.5" x2="168" y2="272.3" stroke="#2b3c60" stroke-width="1.0"/>
<line x1="170.2" y1="269.5" x2="170.2" y2="272.3" stroke="#2b3c60" stroke-width="1.0"/>
<line x1="172.4" y1="269.5" x2="172.4" y2="272.3" stroke="#2b3c60" stroke-width="1.0"/>
<line x1="174.5" y1="269.5" x2="174.5" y2="272.3" stroke="#2b3c60" stroke-width="1.0"/>
<line x1="181.1" y1="269.5" x2="181.1" y2="272.3" stroke="#2b3c60" stroke-width="1.0"/>
<line x1="189.9" y1="269.5" x2="189.9" y2="272.3" stroke="#2b3c60" stroke-width="1.0"/>
<line x1="229.2" y1="284.9" x2="229.2" y2="287.7" stroke="#2b3c60" stroke-width="1.0"/>
<line x1="239.1" y1="297.6" x2="239.1" y2="300.4" stroke="#2b3c60" stroke-width="1.0"/>
<rect x="48.2" y="227.9" width="204.0" height="137.3" fill="none" stroke="#000" stroke-width="1.4"/>
<line x1="210.1" y1="234.20000000000002" x2="212.5" y2="234.20000000000002" stroke="#222" stroke-width="0.85"/>
<line x1="211.29999999999998" y1="233.0" x2="211.29999999999998" y2="235.4" stroke="#222" stroke-width="0.85"/>
<text x="214.79999999999998" y="236.36" font-size="5.6" textLength="22.9" lengthAdjust="spacingAndGlyphs" fill="#111" color="#111">Censored</text>
<text x="204.1" y="242.96" font-size="5.6" textLength="45.1" lengthAdjust="spacingAndGlyphs" fill="#111" color="#111">Logrank p=0.0012</text>
<text x="90.4" y="399.97" font-size="6.5" textLength="40.2" lengthAdjust="spacingAndGlyphs" fill="#222" color="#222">ASXL1/EZH2</text>
<line x1="140" y1="397.7" x2="157.9" y2="397.7" stroke="#2b3c60" stroke-width="1.3"/>
<circle cx="148.95" cy="397.7" r="1.3" fill="#2b3c60"/>
<text x="161.0" y="399.97" font-size="6.5" textLength="9.0" lengthAdjust="spacingAndGlyphs" fill="#222" color="#222">No</text>
<line x1="178.1" y1="397.7" x2="181.5" y2="397.7" stroke="#8a1437" stroke-width="1.3"/>
<line x1="183.1" y1="397.7" x2="186.5" y2="397.7" stroke="#8a1437" stroke-width="1.3"/>
<line x1="188.1" y1="397.7" x2="191.5" y2="397.7" stroke="#8a1437" stroke-width="1.3"/>
<line x1="193.1" y1="397.7" x2="196.5" y2="397.7" stroke="#8a1437" stroke-width="1.3"/>
<line x1="187.3" y1="396.4" x2="187.3" y2="399.0" stroke="#8a1437" stroke-width="1"/>
<text x="199.9" y="399.97" font-size="6.5" textLength="10.2" lengthAdjust="spacingAndGlyphs" fill="#222" color="#222">Yes</text>
<text x="267.4" y="220.5" font-size="12" font-weight="bold" fill="#000" color="#000" style="stroke-width:0.35px">D</text>
<line x1="314.2" y1="335.1" x2="317.5" y2="335.1" stroke="#000" stroke-width="1"/>
<text x="311.3" y="337.48" font-size="6.8" text-anchor="end" fill="#222" color="#222">0.0</text>
<line x1="314.2" y1="314.24" x2="317.5" y2="314.24" stroke="#000" stroke-width="1"/>
<text x="311.3" y="316.62" font-size="6.8" text-anchor="end" fill="#222" color="#222">0.2</text>
<line x1="314.2" y1="293.38" x2="317.5" y2="293.38" stroke="#000" stroke-width="1"/>
<text x="311.3" y="295.76" font-size="6.8" text-anchor="end" fill="#222" color="#222">0.4</text>
<line x1="314.2" y1="272.52" x2="317.5" y2="272.52" stroke="#000" stroke-width="1"/>
<text x="311.3" y="274.9" font-size="6.8" text-anchor="end" fill="#222" color="#222">0.6</text>
<line x1="314.2" y1="251.66" x2="317.5" y2="251.66" stroke="#000" stroke-width="1"/>
<text x="311.3" y="254.04" font-size="6.8" text-anchor="end" fill="#222" color="#222">0.8</text>
<line x1="314.2" y1="230.8" x2="317.5" y2="230.8" stroke="#000" stroke-width="1"/>
<text x="311.3" y="233.18" font-size="6.8" text-anchor="end" fill="#222" color="#222">1.0</text>
<text x="0" y="0" font-size="8" fill="#1a1a1a" color="#1a1a1a" style="stroke-width:0.35px" text-anchor="middle" textLength="57" lengthAdjust="spacingAndGlyphs" transform="translate(295.3,292.0) rotate(-90)">Survival probability</text>
<line x1="327.8" y1="360.6" x2="327.8" y2="364.40000000000003" stroke="#000" stroke-width="1"/>
<text x="327.8" y="372.81" font-size="6.3" text-anchor="middle" textLength="3.01" lengthAdjust="spacingAndGlyphs" fill="#222" color="#222">0</text>
<line x1="357.9" y1="360.6" x2="357.9" y2="364.40000000000003" stroke="#000" stroke-width="1"/>
<text x="357.9" y="372.81" font-size="6.3" text-anchor="middle" textLength="3.01" lengthAdjust="spacingAndGlyphs" fill="#222" color="#222">1</text>
<line x1="388.0" y1="360.6" x2="388.0" y2="364.40000000000003" stroke="#000" stroke-width="1"/>
<text x="388.0" y="372.81" font-size="6.3" text-anchor="middle" textLength="3.01" lengthAdjust="spacingAndGlyphs" fill="#222" color="#222">2</text>
<line x1="418.1" y1="360.6" x2="418.1" y2="364.40000000000003" stroke="#000" stroke-width="1"/>
<text x="418.1" y="373.07" font-size="8.2" text-anchor="middle" fill="#1a1a1a" color="#1a1a1a" style="stroke-width:0.15px">3</text>
<line x1="448.2" y1="360.6" x2="448.2" y2="364.40000000000003" stroke="#000" stroke-width="1"/>
<text x="448.2" y="372.81" font-size="6.3" text-anchor="middle" textLength="3.01" lengthAdjust="spacingAndGlyphs" fill="#222" color="#222">4</text>
<line x1="478.3" y1="360.6" x2="478.3" y2="364.40000000000003" stroke="#000" stroke-width="1"/>
<text x="478.3" y="372.81" font-size="6.3" text-anchor="middle" textLength="3.01" lengthAdjust="spacingAndGlyphs" fill="#222" color="#222">5</text>
<line x1="508.4" y1="360.6" x2="508.4" y2="364.40000000000003" stroke="#000" stroke-width="1"/>
<text x="508.4" y="372.81" font-size="6.3" text-anchor="middle" textLength="3.01" lengthAdjust="spacingAndGlyphs" fill="#222" color="#222">6</text>
<text x="419.6" y="383.72" font-size="9.5" text-anchor="middle" textLength="16.6" lengthAdjust="spacingAndGlyphs" fill="#111" color="#111" style="stroke-width:0.4px">Years</text>
<text x="314.4" y="343.57" font-size="6.5" text-anchor="end" textLength="36.0" lengthAdjust="spacingAndGlyphs" fill="#222" color="#222">0-2 no HMR</text>
<text x="327.8" y="343.37" font-size="5.9" text-anchor="middle" textLength="5.64" lengthAdjust="spacingAndGlyphs" fill="#1a1a1a" color="#1a1a1a" style="stroke-width:0.12px">50</text>
<text x="357.9" y="343.37" font-size="5.9" text-anchor="middle" textLength="5.64" lengthAdjust="spacingAndGlyphs" fill="#1a1a1a" color="#1a1a1a" style="stroke-width:0.12px">43</text>
<text x="388.0" y="343.37" font-size="5.9" text-anchor="middle" textLength="5.64" lengthAdjust="spacingAndGlyphs" fill="#1a1a1a" color="#1a1a1a" style="stroke-width:0.12px">28</text>
<text x="418.1" y="343.37" font-size="5.9" text-anchor="middle" textLength="5.64" lengthAdjust="spacingAndGlyphs" fill="#1a1a1a" color="#1a1a1a" style="stroke-width:0.12px">16</text>
<text x="448.2" y="343.37" font-size="5.9" text-anchor="middle" textLength="2.82" lengthAdjust="spacingAndGlyphs" fill="#1a1a1a" color="#1a1a1a" style="stroke-width:0.12px">9</text>
<text x="478.3" y="343.37" font-size="5.9" text-anchor="middle" textLength="2.82" lengthAdjust="spacingAndGlyphs" fill="#1a1a1a" color="#1a1a1a" style="stroke-width:0.12px">4</text>
<text x="508.4" y="343.37" font-size="5.9" text-anchor="middle" textLength="2.82" lengthAdjust="spacingAndGlyphs" fill="#1a1a1a" color="#1a1a1a" style="stroke-width:0.12px">0</text>
<text x="314.4" y="348.88" font-size="6.5" text-anchor="end" textLength="27.0" lengthAdjust="spacingAndGlyphs" fill="#222" color="#222">0-2 HMR</text>
<text x="327.8" y="348.67" font-size="5.9" text-anchor="middle" textLength="5.64" lengthAdjust="spacingAndGlyphs" fill="#1a1a1a" color="#1a1a1a" style="stroke-width:0.12px">16</text>
<text x="357.9" y="348.67" font-size="5.9" text-anchor="middle" textLength="5.64" lengthAdjust="spacingAndGlyphs" fill="#1a1a1a" color="#1a1a1a" style="stroke-width:0.12px">15</text>
<text x="388.0" y="348.67" font-size="5.9" text-anchor="middle" textLength="5.64" lengthAdjust="spacingAndGlyphs" fill="#1a1a1a" color="#1a1a1a" style="stroke-width:0.12px">11</text>
<text x="418.1" y="348.67" font-size="5.9" text-anchor="middle" textLength="2.82" lengthAdjust="spacingAndGlyphs" fill="#1a1a1a" color="#1a1a1a" style="stroke-width:0.12px">6</text>
<text x="448.2" y="348.67" font-size="5.9" text-anchor="middle" textLength="2.82" lengthAdjust="spacingAndGlyphs" fill="#1a1a1a" color="#1a1a1a" style="stroke-width:0.12px">2</text>
<text x="478.3" y="348.67" font-size="5.9" text-anchor="middle" textLength="2.82" lengthAdjust="spacingAndGlyphs" fill="#1a1a1a" color="#1a1a1a" style="stroke-width:0.12px">2</text>
<text x="508.4" y="348.67" font-size="5.9" text-anchor="middle" textLength="2.82" lengthAdjust="spacingAndGlyphs" fill="#1a1a1a" color="#1a1a1a" style="stroke-width:0.12px">0</text>
<text x="314.4" y="354.38" font-size="6.5" text-anchor="end" textLength="35.5" lengthAdjust="spacingAndGlyphs" fill="#222" color="#222">≥ 3 no HMR</text>
<text x="327.8" y="354.17" font-size="5.9" text-anchor="middle" textLength="2.82" lengthAdjust="spacingAndGlyphs" fill="#1a1a1a" color="#1a1a1a" style="stroke-width:0.12px">7</text>
<text x="357.9" y="354.17" font-size="5.9" text-anchor="middle" textLength="2.82" lengthAdjust="spacingAndGlyphs" fill="#1a1a1a" color="#1a1a1a" style="stroke-width:0.12px">5</text>
<text x="388.0" y="354.17" font-size="5.9" text-anchor="middle" textLength="2.82" lengthAdjust="spacingAndGlyphs" fill="#1a1a1a" color="#1a1a1a" style="stroke-width:0.12px">4</text>
<text x="418.1" y="354.17" font-size="5.9" text-anchor="middle" textLength="2.82" lengthAdjust="spacingAndGlyphs" fill="#1a1a1a" color="#1a1a1a" style="stroke-width:0.12px">3</text>
<text x="448.2" y="354.17" font-size="5.9" text-anchor="middle" textLength="2.82" lengthAdjust="spacingAndGlyphs" fill="#1a1a1a" color="#1a1a1a" style="stroke-width:0.12px">2</text>
<text x="478.3" y="354.17" font-size="5.9" text-anchor="middle" textLength="2.82" lengthAdjust="spacingAndGlyphs" fill="#1a1a1a" color="#1a1a1a" style="stroke-width:0.12px">1</text>
<text x="508.4" y="354.17" font-size="5.9" text-anchor="middle" textLength="2.82" lengthAdjust="spacingAndGlyphs" fill="#1a1a1a" color="#1a1a1a" style="stroke-width:0.12px">0</text>
<text x="314.4" y="359.77" font-size="6.5" text-anchor="end" textLength="26.2" lengthAdjust="spacingAndGlyphs" fill="#222" color="#222">≥ 3 HMR</text>
<text x="327.8" y="359.56" font-size="5.9" text-anchor="middle" textLength="5.64" lengthAdjust="spacingAndGlyphs" fill="#1a1a1a" color="#1a1a1a" style="stroke-width:0.12px">27</text>
<text x="357.9" y="359.56" font-size="5.9" text-anchor="middle" textLength="5.64" lengthAdjust="spacingAndGlyphs" fill="#1a1a1a" color="#1a1a1a" style="stroke-width:0.12px">19</text>
<text x="388.0" y="359.56" font-size="5.9" text-anchor="middle" textLength="5.64" lengthAdjust="spacingAndGlyphs" fill="#1a1a1a" color="#1a1a1a" style="stroke-width:0.12px">12</text>
<text x="418.1" y="359.56" font-size="5.9" text-anchor="middle" textLength="2.82" lengthAdjust="spacingAndGlyphs" fill="#1a1a1a" color="#1a1a1a" style="stroke-width:0.12px">5</text>
<text x="448.2" y="359.56" font-size="5.9" text-anchor="middle" textLength="2.82" lengthAdjust="spacingAndGlyphs" fill="#1a1a1a" color="#1a1a1a" style="stroke-width:0.12px">1</text>
<text x="478.3" y="359.56" font-size="5.9" text-anchor="middle" textLength="2.82" lengthAdjust="spacingAndGlyphs" fill="#1a1a1a" color="#1a1a1a" style="stroke-width:0.12px">0</text>
<path d="M327.8,230.8 H402.2 V256.6 H456.6 V293 H493.3 V334.7" fill="none" stroke="#74a04a" stroke-width="1.35" stroke-dasharray="4.6,1.8,1.2,1.8" stroke-linejoin="miter"/>
<line x1="401.1" y1="229.7" x2="403.3" y2="231.9" stroke="#74a04a" stroke-width="0.8"/>
<line x1="401.1" y1="231.9" x2="403.3" y2="229.7" stroke="#74a04a" stroke-width="0.8"/>
<line x1="428.9" y1="255.5" x2="431.1" y2="257.7" stroke="#74a04a" stroke-width="0.8"/>
<line x1="428.9" y1="257.7" x2="431.1" y2="255.5" stroke="#74a04a" stroke-width="0.8"/>
<line x1="443.9" y1="255.5" x2="446.1" y2="257.7" stroke="#74a04a" stroke-width="0.8"/>
<line x1="443.9" y1="257.7" x2="446.1" y2="255.5" stroke="#74a04a" stroke-width="0.8"/>
<line x1="455.5" y1="255.5" x2="457.7" y2="257.7" stroke="#74a04a" stroke-width="0.8"/>
<line x1="455.5" y1="257.7" x2="457.7" y2="255.5" stroke="#74a04a" stroke-width="0.8"/>
<line x1="492.7" y1="333.6" x2="494.9" y2="335.8" stroke="#74a04a" stroke-width="0.8"/>
<line x1="492.7" y1="335.8" x2="494.9" y2="333.6" stroke="#74a04a" stroke-width="0.8"/>
<path d="M327.8,230.8 H336.1 V234.1 H338.2 V236.2 H383.9 V239.5 H385.3 V242.8 H386.6 V246.2 H388 V251.6 H388.6 V259 H414.9 V270.3 H422.7 V280.6 H426.3 V291.6 H499" fill="none" stroke="#8a1437" stroke-width="1.35" stroke-dasharray="4,1.7" stroke-linejoin="miter"/>
<circle cx="499" cy="291.6" r="1.15" fill="#8a1437"/>
<line x1="345.6" y1="234.8" x2="345.6" y2="237.6" stroke="#8a1437" stroke-width="1.0"/>
<line x1="348.9" y1="234.8" x2="348.9" y2="237.6" stroke="#8a1437" stroke-width="1.0"/>
<line x1="355" y1="234.8" x2="355" y2="237.6" stroke="#8a1437" stroke-width="1.0"/>
<line x1="362" y1="234.8" x2="362" y2="237.6" stroke="#8a1437" stroke-width="1.0"/>
<line x1="368" y1="234.8" x2="368" y2="237.6" stroke="#8a1437" stroke-width="1.0"/>
<line x1="375" y1="234.8" x2="375" y2="237.6" stroke="#8a1437" stroke-width="1.0"/>
<line x1="380" y1="234.8" x2="380" y2="237.6" stroke="#8a1437" stroke-width="1.0"/>
<line x1="392" y1="257.6" x2="392" y2="260.4" stroke="#8a1437" stroke-width="1.0"/>
<line x1="398" y1="257.6" x2="398" y2="260.4" stroke="#8a1437" stroke-width="1.0"/>
<line x1="404" y1="257.6" x2="404" y2="260.4" stroke="#8a1437" stroke-width="1.0"/>
<line x1="410" y1="257.6" x2="410" y2="260.4" stroke="#8a1437" stroke-width="1.0"/>
<line x1="422.7" y1="268.9" x2="422.7" y2="271.7" stroke="#8a1437" stroke-width="1.0"/>
<line x1="434.9" y1="290.2" x2="434.9" y2="293.0" stroke="#8a1437" stroke-width="1.0"/>
<line x1="443.5" y1="290.2" x2="443.5" y2="293.0" stroke="#8a1437" stroke-width="1.0"/>
<line x1="470" y1="290.2" x2="470" y2="293.0" stroke="#8a1437" stroke-width="1.0"/>
<line x1="485" y1="290.2" x2="485" y2="293.0" stroke="#8a1437" stroke-width="1.0"/>
<path d="M327.8,230.8 H336.1 V234.1 H342.2 V235.4 H344.2 V237.4 H346.2 V239.5 H346.9 V243.5 H350.9 V246.2 H353 V247.5 H356.3 V248.9 H359 V250.2 H360.4 V252.2 H362.4 V254.9 H363 V257.6 H370.5 V259 H371.8 V261.5 H380.7 V265 H382.1 V267.1 H387.1 V269.2 H388.5 V273.5 H389.2 V277.8 H395.7 V280.6 H396.4 V284.9 H397.1 V289.9 H398.5 V296.3 H399.2 V303.4 H417.7 V309.3 H455" fill="none" stroke="#34244c" stroke-width="1.35" stroke-dasharray="9,2.2" stroke-linejoin="miter"/>
<path d="M326.20000000000005,231.8 L329.0,231.8 L327.6,229.3 Z" fill="#34244c"/>
<path d="M426.3,310.3 L429.09999999999997,310.3 L427.7,307.8 Z" fill="#34244c"/>
<path d="M453.6,310.3 L456.4,310.3 L455,307.8 Z" fill="#34244c"/>
<path d="M327.8,230.8 H336.1 V232.1 H338.8 V233.4 H347.6 V235.4 H359.7 V236.8 H371.8 V239.5 H378.5 V241.5 H381.2 V242.8 H385.3 V244.2 H388 V246.2 H401.3 V249.2 H410.8 V253.3 H414.9 V257.8 H424.1 V260 H424.9 V264.3 H456.9 V274.5 H507.6" fill="none" stroke="#2b3c60" stroke-width="1.35" stroke-linejoin="miter"/>
<circle cx="347.6" cy="233.4" r="1.15" fill="#2b3c60"/>
<circle cx="371.8" cy="236.8" r="1.15" fill="#2b3c60"/>
<circle cx="388" cy="244.2" r="1.15" fill="#2b3c60"/>
<circle cx="424.9" cy="260.0" r="1.15" fill="#2b3c60"/>
<circle cx="459.1" cy="274.5" r="1.15" fill="#2b3c60"/>
<circle cx="507.6" cy="274.5" r="1.15" fill="#2b3c60"/>
<line x1="342" y1="232.0" x2="342" y2="234.8" stroke="#2b3c60" stroke-width="1.0"/>
<line x1="345" y1="232.0" x2="345" y2="234.8" stroke="#2b3c60" stroke-width="1.0"/>
<line x1="353" y1="234.0" x2="353" y2="236.8" stroke="#2b3c60" stroke-width="1.0"/>
<line x1="357" y1="234.0" x2="357" y2="236.8" stroke="#2b3c60" stroke-width="1.0"/>
<line x1="374.5" y1="238.1" x2="374.5" y2="240.9" stroke="#2b3c60" stroke-width="1.0"/>
<line x1="376.5" y1="238.1" x2="376.5" y2="240.9" stroke="#2b3c60" stroke-width="1.0"/>
<line x1="395" y1="244.8" x2="395" y2="247.6" stroke="#2b3c60" stroke-width="1.0"/>
<line x1="405" y1="247.8" x2="405" y2="250.6" stroke="#2b3c60" stroke-width="1.0"/>
<line x1="418" y1="256.4" x2="418" y2="259.2" stroke="#2b3c60" stroke-width="1.0"/>
<line x1="426.4" y1="262.9" x2="426.4" y2="265.7" stroke="#2b3c60" stroke-width="1.0"/>
<line x1="433.5" y1="262.9" x2="433.5" y2="265.7" stroke="#2b3c60" stroke-width="1.0"/>
<line x1="440.6" y1="262.9" x2="440.6" y2="265.7" stroke="#2b3c60" stroke-width="1.0"/>
<line x1="447.7" y1="262.9" x2="447.7" y2="265.7" stroke="#2b3c60" stroke-width="1.0"/>
<line x1="476.2" y1="273.1" x2="476.2" y2="275.9" stroke="#2b3c60" stroke-width="1.0"/>
<line x1="490.5" y1="273.1" x2="490.5" y2="275.9" stroke="#2b3c60" stroke-width="1.0"/>
<line x1="496.2" y1="273.1" x2="496.2" y2="275.9" stroke="#2b3c60" stroke-width="1.0"/>
<rect x="317.5" y="227.8" width="195.0" height="132.8" fill="none" stroke="#000" stroke-width="1.4"/>
<line x1="470.4" y1="234.10000000000002" x2="472.8" y2="234.10000000000002" stroke="#222" stroke-width="0.85"/>
<line x1="471.6" y1="232.9" x2="471.6" y2="235.3" stroke="#222" stroke-width="0.85"/>
<text x="475.1" y="236.26" font-size="5.6" textLength="22.9" lengthAdjust="spacingAndGlyphs" fill="#111" color="#111">Censored</text>
<text x="464.4" y="242.86" font-size="5.6" textLength="45.1" lengthAdjust="spacingAndGlyphs" fill="#111" color="#111">Logrank p=0.0025</text>
<text x="344.2" y="406.17" font-size="6.5" textLength="16.5" lengthAdjust="spacingAndGlyphs" fill="#222" color="#222">group</text>
<line x1="372.7" y1="397.9" x2="390" y2="397.9" stroke="#2b3c60" stroke-width="1.3"/>
<circle cx="381.35" cy="397.9" r="1.3" fill="#2b3c60"/>
<text x="393.3" y="400.17" font-size="6.5" textLength="36.2" lengthAdjust="spacingAndGlyphs" fill="#222" color="#222">0-2 no HMR</text>
<line x1="438.3" y1="397.9" x2="441.7" y2="397.9" stroke="#8a1437" stroke-width="1.3"/>
<line x1="443.23" y1="397.9" x2="446.63" y2="397.9" stroke="#8a1437" stroke-width="1.3"/>
<line x1="448.17" y1="397.9" x2="451.57" y2="397.9" stroke="#8a1437" stroke-width="1.3"/>
<line x1="453.1" y1="397.9" x2="456.5" y2="397.9" stroke="#8a1437" stroke-width="1.3"/>
<line x1="447.4" y1="396.59999999999997" x2="447.4" y2="399.2" stroke="#8a1437" stroke-width="1"/>
<text x="459.8" y="400.17" font-size="6.5" textLength="27.5" lengthAdjust="spacingAndGlyphs" fill="#222" color="#222">0-2 HMR</text>
<line x1="372.7" y1="409.8" x2="377.75" y2="409.8" stroke="#74a04a" stroke-width="1.3"/>
<line x1="384.95" y1="409.8" x2="390" y2="409.8" stroke="#74a04a" stroke-width="1.3"/>
<line x1="379.95" y1="409.8" x2="382.75" y2="409.8" stroke="#74a04a" stroke-width="1.0"/>
<line x1="380.15000000000003" y1="408.6" x2="382.55" y2="411.0" stroke="#74a04a" stroke-width="0.9"/>
<line x1="380.15000000000003" y1="411.0" x2="382.55" y2="408.6" stroke="#74a04a" stroke-width="0.9"/>
<text x="393.3" y="412.07" font-size="6.5" textLength="36.2" lengthAdjust="spacingAndGlyphs" fill="#222" color="#222">≥ 3 no HMR</text>
<line x1="438.3" y1="409.8" x2="445.0" y2="409.8" stroke="#34244c" stroke-width="1.3"/>
<line x1="449.8" y1="409.8" x2="456.5" y2="409.8" stroke="#34244c" stroke-width="1.3"/>
<path d="M445.9,410.90000000000003 L448.9,410.90000000000003 L447.4,408.3 Z" fill="#34244c"/>
<text x="459.8" y="412.07" font-size="6.5" textLength="27.0" lengthAdjust="spacingAndGlyphs" fill="#222" color="#222">≥ 3 HMR</text>
<rect x="0" y="0" width="520" height="1.4" fill="#000"/>
<rect x="0" y="0" width="1.4" height="421" fill="#000"/>
<rect x="518.5" y="0" width="1.5" height="421" fill="#000"/>
<rect x="0" y="419.5" width="520" height="1.5" fill="#000"/>
</svg>
</body></html>
